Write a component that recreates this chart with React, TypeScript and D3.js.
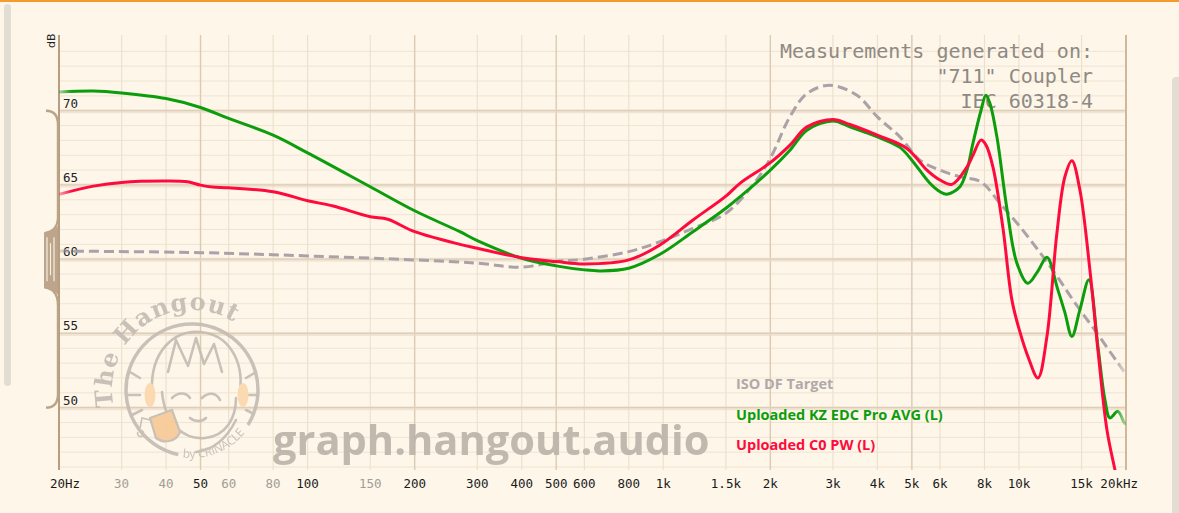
import * as d3 from "d3";
import { useEffect, useRef } from "react";

const W = 1179;
const H = 513;

const tickFreqs = [20, 30, 40, 50, 60, 80, 100, 150, 200, 300, 400, 500, 600, 800, 1000, 1500, 2000, 3000, 4000, 5000, 6000, 8000, 10000, 15000, 20000];
const tickLabels = ["20Hz", "30", "40", "50", "60", "80", "100", "150", "200", "300", "400", "500", "600", "800", "1k", "1.5k", "2k", "3k", "4k", "5k", "6k", "8k", "10k", "15k", "20kHz"];
const faintLabels = [30, 40, 60, 80, 150];
const strongLines = [20, 50, 200, 500, 2000, 5000, 20000];
const yTicks = [50, 55, 60, 65, 70];

const targetFreq = [20, 50, 100, 200, 300, 400, 500, 600, 800, 979, 1212, 1500, 1800, 2000, 2271, 2535, 2942, 3505, 4000, 4628, 5268, 6000, 6824, 7819, 8842, 10064, 11455, 12784, 14180, 16566, 19602, 20000];
const targetDb = [60.55, 60.44, 60.22, 59.95, 59.73, 59.46, 59.84, 60.0, 60.51, 61.18, 62.08, 63.09, 65.1, 66.8, 69.6, 71.16, 71.71, 71.04, 69.58, 68.24, 66.67, 66.0, 65.55, 65.21, 63.76, 62.19, 60.45, 58.87, 57.26, 55.02, 52.55, 52.3];

const kzFreq = [20, 25, 30, 40, 50, 60, 80, 100, 150, 200, 268, 300, 400, 500, 600, 664, 800, 979, 1212, 1500, 1643, 2000, 2271, 2535, 3000, 3348, 3738, 4000, 4628, 5000, 5620, 6000, 6274, 6824, 7140, 7424, 7819, 8074, 8286, 8670, 9252, 9870, 10598, 11308, 11986, 12868, 13466, 14090, 14840, 15730, 16674, 17448, 18020, 18978, 19800, 20000];
const kzDb = [71.26, 71.33, 71.2, 70.82, 70.22, 69.48, 68.35, 67.16, 64.88, 63.26, 61.85, 61.25, 60.06, 59.55, 59.28, 59.21, 59.39, 60.33, 61.85, 63.43, 64.2, 66.0, 67.34, 68.69, 69.31, 68.91, 68.51, 68.24, 67.53, 66.67, 65.11, 64.54, 64.37, 64.88, 66.0, 67.8, 70.0, 71.04, 70.5, 68.24, 63.4, 59.73, 58.38, 59.2, 60.13, 57.93, 56.4, 54.79, 56.6, 58.61, 54.12, 50.54, 49.31, 49.75, 48.97, 48.9];

const c0Freq = [20, 25, 30, 40, 46, 50, 54, 60, 80, 100, 118, 150, 168, 200, 268, 300, 400, 500, 600, 800, 979, 1212, 1500, 1643, 2000, 2271, 2535, 3000, 3348, 4000, 4842, 5512, 6000, 6480, 7140, 7424, 7819, 8074, 8450, 9016, 9554, 10064, 10598, 11308, 11986, 12784, 13466, 14090, 14840, 15832, 16674, 17674, 18614, 20000];
const c0Db = [64.37, 64.92, 65.17, 65.26, 65.21, 64.99, 64.86, 64.81, 64.54, 63.94, 63.58, 62.86, 62.69, 61.85, 61.0, 60.74, 60.1, 59.84, 59.68, 59.95, 60.96, 62.64, 64.25, 65.11, 66.5, 67.68, 68.91, 69.41, 69.07, 68.35, 67.46, 66.0, 65.33, 65.04, 66.2, 67.0, 68.02, 67.7, 66.22, 62.1, 57.26, 55.1, 53.45, 52.0, 54.79, 61.74, 65.55, 66.63, 64.66, 59.28, 53.9, 48.52, 45.83, 42.5];

const legendNames = ["ISO DF Target", "Uploaded KZ EDC Pro AVG (L)", "Uploaded C0 PW (L)"];
const legendColors = ["#b1a9a9", "#0c9d0c", "#ff0a3c"];
const noteLines = ["Measurements generated on:", "\"711\" Coupler", "IEC 60318-4"];

const MONO = "'DejaVu Sans Mono', monospace";
const SANS = "'Open Sans', 'DejaVu Sans', sans-serif";

export default function App() {
  const ref = useRef<SVGSVGElement | null>(null);

  useEffect(() => {
    if (!ref.current) return;
    const svg = d3.select(ref.current);
    svg.selectAll("*").remove();

    const x = d3.scaleLog().domain([20, 20000]).range([59, 1126]);
    const y = d3.scaleLinear().domain([45.8, 75.1]).range([470, 35]);
    const [x0, x1] = x.range();
    const [yb, yt] = y.range();

    svg.append("rect").attr("width", W).attr("height", H).attr("fill", "#fdf6e9");
    svg.append("rect").attr("width", W).attr("height", 2).attr("fill", "#f39c2c");
    svg.append("rect").attr("x", 4).attr("y", 4).attr("width", 7).attr("height", 382).attr("rx", 3.5).attr("fill", "#e3ded4");
    svg.append("rect").attr("x", 1172).attr("y", 77).attr("width", 12).attr("height", 450).attr("rx", 4).attr("fill", "#e3ddd3");

    const defs = svg.append("defs");
    defs.append("clipPath").attr("id", "plot").append("rect")
      .attr("x", x0).attr("y", yt).attr("width", x1 - x0).attr("height", yb - yt);
    const grad = defs.append("linearGradient").attr("id", "fade")
      .attr("gradientUnits", "userSpaceOnUse").attr("x1", x0).attr("x2", x1).attr("y1", 0).attr("y2", 0);
    [[0, 0.35], [0.012, 1], [0.99, 1], [1, 0.3]].forEach(([o, a]) =>
      grad.append("stop").attr("offset", o).attr("stop-color", "#fff").attr("stop-opacity", a));
    defs.append("mask").attr("id", "edge").attr("maskUnits", "userSpaceOnUse")
      .append("rect").attr("x", x0).attr("y", 0).attr("width", x1 - x0).attr("height", H).attr("fill", "url(#fade)");

    // grid
    const grid = svg.append("g");
    grid.selectAll("line.minor")
      .data(d3.range(46, 76).filter((v) => v % 5 !== 0))
      .enter().append("line")
      .attr("x1", x0).attr("x2", x1)
      .attr("y1", (d) => y(d)).attr("y2", (d) => y(d))
      .attr("stroke", "#f0e4d3").attr("stroke-width", 1);
    grid.selectAll("line.v")
      .data(tickFreqs)
      .enter().append("line")
      .attr("x1", (d) => x(d)).attr("x2", (d) => x(d))
      .attr("y1", yt).attr("y2", yb)
      .attr("stroke", (d) => (strongLines.includes(d) ? "#dccab3" : "#eddfcc"))
      .attr("stroke-width", (d) => (strongLines.includes(d) ? 1.4 : 1.1));
    grid.selectAll("line.majorBand")
      .data(yTicks)
      .enter().append("line")
      .attr("x1", x0).attr("x2", x1)
      .attr("y1", (d) => y(d) + 0.5).attr("y2", (d) => y(d) + 0.5)
      .attr("stroke", "#e8d9c6").attr("stroke-opacity", 0.6).attr("stroke-width", 4);
    grid.selectAll("line.major")
      .data(yTicks)
      .enter().append("line")
      .attr("x1", x0).attr("x2", x1)
      .attr("y1", (d) => y(d)).attr("y2", (d) => y(d))
      .attr("stroke", "#dfcdb6").attr("stroke-width", 1.3);

    // frame lines
    svg.append("line").attr("x1", x1).attr("x2", x1).attr("y1", yt).attr("y2", yb)
      .attr("stroke", "#c9b092").attr("stroke-width", 1.6);
    svg.append("line").attr("x1", x0).attr("x2", x0).attr("y1", yt).attr("y2", yb)
      .attr("stroke", "#b89d80").attr("stroke-width", 2);

    // y scaler brace
    const brace = svg.append("g").attr("fill", "none").attr("stroke", "#bba388").attr("stroke-width", 2.4);
    const yTop = y(70), yMid = y(60), yBot = y(50);
    brace.append("path").attr("d",
      `M46,${yTop} C53,${yTop} 58,${yTop + 3} 58,${yTop + 14} L58,${yMid - 42} C58,${yMid - 32} 53,${yMid - 28} 45,${yMid - 26}`);
    brace.append("path").attr("d",
      `M45,${yMid + 28} C53,${yMid + 30} 58,${yMid + 34} 58,${yMid + 46} L58,${yBot - 14} C58,${yBot - 3} 53,${yBot} 46,${yBot}`);
    svg.append("path")
      .attr("d", `M58,${yMid - 34} C56,${yMid - 30} 50,${yMid - 28} 44,${yMid - 27} L44,${yMid + 29} C50,${yMid + 30} 56,${yMid + 32} 58,${yMid + 36} Z`)
      .attr("fill", "#bca58a");
    [47, 50.5, 54].forEach((lx, i) =>
      svg.append("line").attr("x1", lx).attr("x2", lx)
        .attr("y1", yMid - (i === 1 ? 16 : 22)).attr("y2", yMid + (i === 1 ? 16 : 22))
        .attr("stroke", "#f6eee2").attr("stroke-width", 1.2));

    // axis labels
    svg.append("g").selectAll("text")
      .data(yTicks)
      .enter().append("text")
      .attr("x", 63).attr("y", (d) => y(d) - 3)
      .attr("font-family", MONO).attr("font-size", 12.5).attr("fill", "#222")
      .text((d) => String(d));
    svg.append("text")
      .attr("transform", "translate(55,48) rotate(-90)")
      .attr("font-family", "'DejaVu Sans', sans-serif").attr("font-size", 11).attr("fill", "#222")
      .text("dB");
    svg.append("g").selectAll("text")
      .data(tickFreqs)
      .enter().append("text")
      .attr("x", (d, i) => (i === 0 ? x(d) - 9 : i === tickFreqs.length - 1 ? x(d) + 12 : x(d)))
      .attr("y", 488)
      .attr("text-anchor", (d, i) => (i === 0 ? "start" : i === tickFreqs.length - 1 ? "end" : "middle"))
      .attr("font-family", MONO).attr("font-size", 12.5)
      .attr("fill", (d) => (faintLabels.includes(d) ? "#a39c95" : "#1a1a1a"))
      .text((d, i) => tickLabels[i]);

    // watermark logo
    const logo = svg.append("g").attr("opacity", 0.9);
    const cx = 192, cy = 390, r = 66;
    const gray = "#c4bcb3";
    const pt = (rad: number, deg: number) => [cx + rad * Math.cos((deg * Math.PI) / 180), cy - rad * Math.sin((deg * Math.PI) / 180)];
    const [ra, rb] = [pt(r, -32), pt(r, -102)];
    logo.append("path")
      .attr("d", `M${ra[0]},${ra[1]} A${r},${r} 0 1 0 ${rb[0]},${rb[1]}`)
      .attr("fill", "none").attr("stroke", gray).attr("stroke-width", 3.5);
    const [ta, tb] = [pt(80, 192), pt(80, 30)];
    defs.append("path").attr("id", "arcTop").attr("d", `M${ta[0]},${ta[1]} A80,80 0 0 1 ${tb[0]},${tb[1]}`);
    logo.append("text").attr("font-family", "'DejaVu Serif', serif").attr("font-weight", "bold")
      .attr("font-size", 24).attr("letter-spacing", 1).attr("fill", gray)
      .append("textPath").attr("href", "#arcTop").text("The Hangout");
    const [ba, bb] = [pt(70, -98), pt(70, -28)];
    defs.append("path").attr("id", "arcBot").attr("d", `M${ba[0]},${ba[1]} A70,70 0 0 0 ${bb[0]},${bb[1]}`);
    logo.append("text").attr("font-family", SANS).attr("font-size", 12).attr("fill", gray)
      .attr("dy", -2)
      .append("textPath").attr("href", "#arcBot").text("by CRINACLE");
    const face = logo.append("g").attr("fill", "none").attr("stroke", gray).attr("stroke-width", 2.6)
      .attr("stroke-linecap", "round").attr("stroke-linejoin", "round");
    face.append("path").attr("d", "M152,392 C150,350 175,330 200,332 C228,334 244,360 240,392");
    face.append("path").attr("d", "M162,392 C165,425 185,440 205,438 C226,436 236,418 236,398");
    face.append("path").attr("d", "M168,372 L176,340 L188,366 L196,338 L204,364 L214,344 L222,372");
    face.append("path").attr("d", "M172,398 C178,392 186,392 190,398 M202,398 C208,392 216,392 220,400");
    face.append("path").attr("d", "M190,418 C195,422 202,422 206,418");
    face.append("path").attr("d", "M130,372 L140,378 M128,395 L140,395 M132,415 L142,410 M256,372 L246,378 M258,395 L248,395 M254,414 L246,410");
    face.append("path").attr("d", "M236,420 C226,440 212,450 196,452");
    logo.append("ellipse").attr("cx", 150).attr("cy", 395).attr("rx", 5.5).attr("ry", 12).attr("fill", "#fbd8ad");
    logo.append("ellipse").attr("cx", 243).attr("cy", 395).attr("rx", 5.5).attr("ry", 12).attr("fill", "#fbd8ad");
    logo.append("path").attr("d", "M150,418 L172,410 L180,432 C176,442 164,444 156,438 Z")
      .attr("fill", "#f8c995").attr("stroke", gray).attr("stroke-width", 2.2);
    logo.append("path").attr("d", "M140,428 L142,418 L150,420 M138,432 A3,3 0 1 0 139,431")
      .attr("fill", "none").attr("stroke", gray).attr("stroke-width", 1.6);

    svg.append("text")
      .attr("x", 273).attr("y", 455)
      .attr("font-family", SANS).attr("font-weight", "bold").attr("font-size", 41.6)
      .attr("fill", "#bcb4aa").attr("opacity", 0.92)
      .text("graph.hangout.audio");

    // measurement note
    svg.append("g").selectAll("text")
      .data(noteLines)
      .enter().append("text")
      .attr("x", 1093).attr("y", (d, i) => 58 + i * 25)
      .attr("text-anchor", "end")
      .attr("font-family", MONO).attr("font-size", 20).attr("fill", "#8f8983")
      .text((d) => d);

    // curves
    const line = d3.line<[number, number]>()
      .x((d) => x(d[0]))
      .y((d) => y(d[1]))
      .curve(d3.curveCatmullRom.alpha(0.5));
    const curves = svg.append("g").attr("clip-path", "url(#plot)").append("g").attr("mask", "url(#edge)");
    const series: [number[], number[], string, string | null][] = [
      [targetFreq, targetDb, "#aaa2a7", "10 5"],
      [kzFreq, kzDb, legendColors[1], null],
      [c0Freq, c0Db, legendColors[2], null],
    ];
    series.forEach(([fs, ds, color, dash]) => {
      curves.append("path")
        .datum(fs.map((f, i) => [f, ds[i]] as [number, number]))
        .attr("d", line)
        .attr("fill", "none")
        .attr("stroke", color)
        .attr("stroke-width", 3)
        .attr("stroke-dasharray", dash)
        .attr("stroke-linejoin", "round");
    });

    // legend
    svg.append("g").selectAll("text")
      .data(legendNames)
      .enter().append("text")
      .attr("x", 736).attr("y", (d, i) => 389 + i * 30.5)
      .attr("font-family", SANS).attr("font-weight", "bold").attr("font-size", 14.5)
      .attr("fill", (d, i) => legendColors[i])
      .text((d) => d);
  }, []);

  return (
    <div style={{ position: "fixed", left: 0, top: 0, width: W, height: H }}>
      <svg ref={ref} width={W} height={H} viewBox={`0 0 ${W} ${H}`} style={{ display: "block" }} />
    </div>
  );
}
